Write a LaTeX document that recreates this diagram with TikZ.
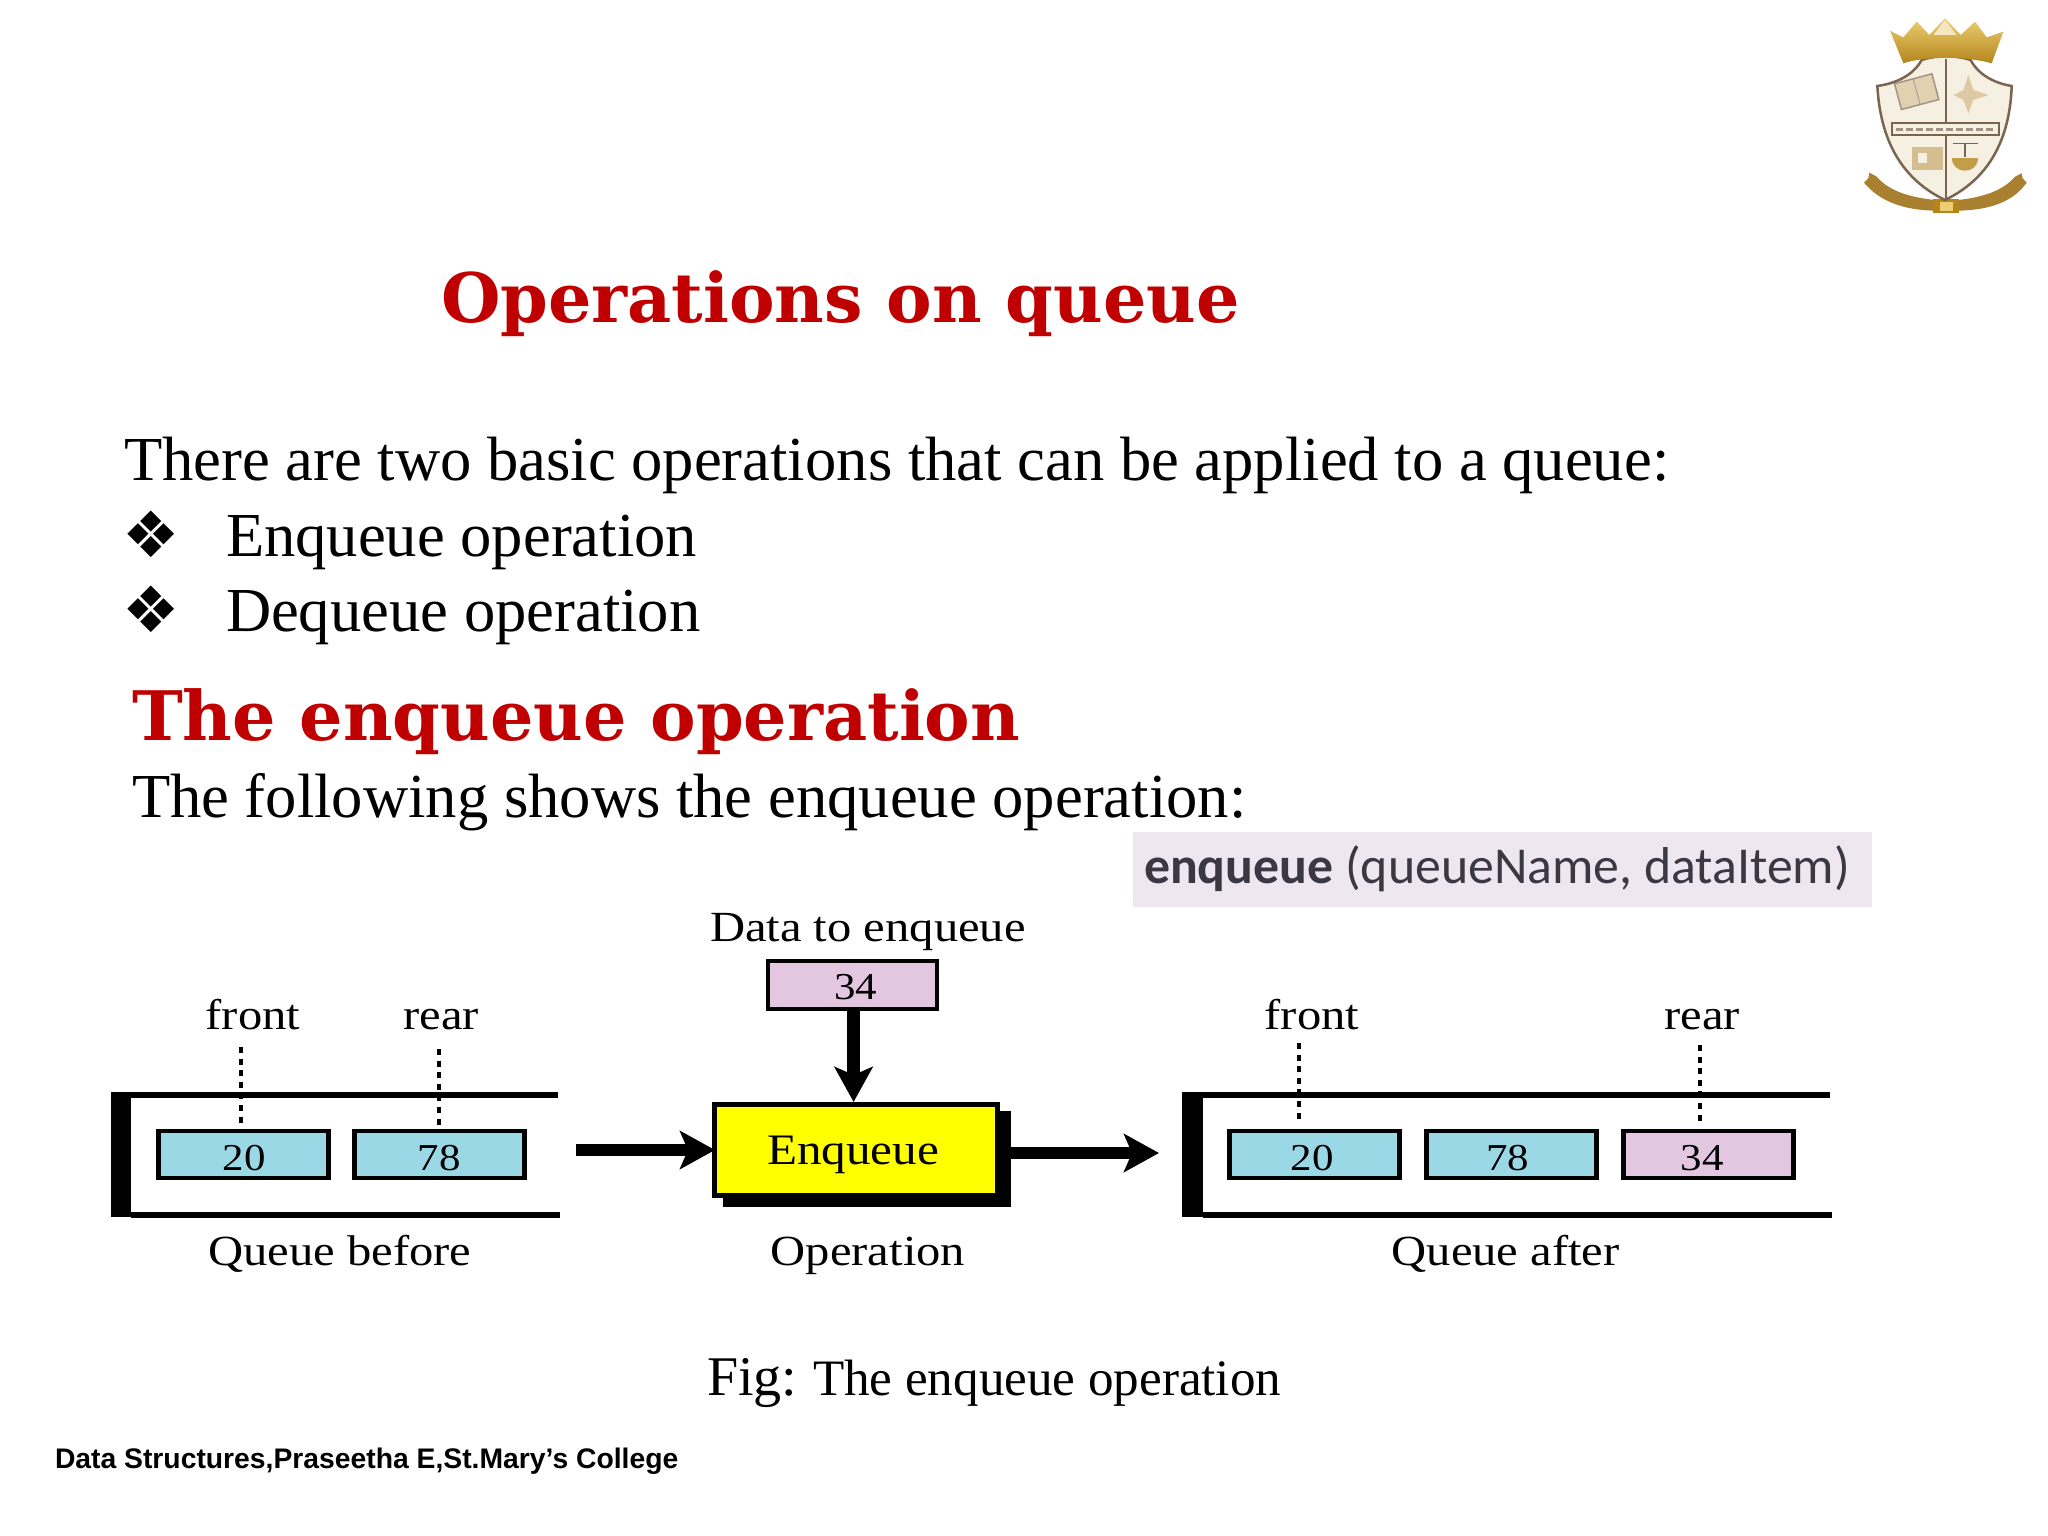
\documentclass[tikz,border=0pt]{standalone}
\usepackage{fontspec}
\usetikzlibrary{arrows.meta,shapes.geometric}
\setmainfont{Liberation Serif}
\newfontfamily\figfont[FakeStretch=1.13]{Liberation Serif}
\newfontfamily\titlefont{DejaVu Serif}
\newfontfamily\codefont{Carlito}
\newfontfamily\symfont{DejaVu Sans}
\newfontfamily\footfont{Liberation Sans}
\definecolor{cellblue}{RGB}{155,216,230}
\definecolor{cellpink}{RGB}{227,198,224}
\definecolor{titlered}{RGB}{192,0,0}
\definecolor{codebg}{RGB}{239,231,240}
\definecolor{codetext}{RGB}{58,56,68}
\definecolor{crestline}{RGB}{122,102,80}
\definecolor{crestfill}{RGB}{246,240,226}
\definecolor{goldhi}{RGB}{235,207,114}
\definecolor{goldlo}{RGB}{181,133,28}
\definecolor{ribbon}{RGB}{169,128,47}
\definecolor{iconc}{RGB}{212,189,142}
\definecolor{opyellow}{RGB}{255,255,0}
\tikzset{
  txt/.style={inner sep=0pt,outer sep=0pt,anchor=base},
  ltxt/.style={inner sep=0pt,outer sep=0pt,anchor=base west},
  body/.style={ltxt,font=\fontsize{62.6}{66}\selectfont},
  heading/.style={ltxt,text=titlered,font=\titlefont\bfseries\fontsize{68.3}{72}\selectfont},
  bullet/.style={ltxt,font=\symfont\fontsize{64}{68}\selectfont},
  figlabel/.style={txt,font=\figfont\fontsize{43}{46}\selectfont},
  celltext/.style={txt,font=\figfont\fontsize{38}{42}\selectfont},
  cellbox/.style={draw=black,line width=4.5pt,inner sep=0pt,minimum width=170pt,minimum height=47pt},
  bluecell/.style={cellbox,fill=cellblue},
  pinkcell/.style={cellbox,fill=cellpink},
  wall/.style={line width=6pt},
  pointer/.style={line width=4pt,dash pattern=on 6pt off 5.6pt},
  bigarrow/.style={line width=12.5pt,-{Stealth[length=35pt,width=38pt,inset=8pt]}},
}
\begin{document}
\begin{tikzpicture}[x=1pt,y=-1pt]
\useasboundingbox[fill=white] (0,0) rectangle (2048,1536);

% Texts of the slide
\node[heading] (title) at (441,322) {Operations on queue};
\node[body] (intro) at (124,480) {There are two basic operations that can be applied to a queue:};
\node[bullet] (b1) at (122,557) {❖};
\node[body] (enq) at (226,556) {Enqueue operation};
\node[bullet] (b2) at (122,632) {❖};
\node[body] (deq) at (226,631) {Dequeue operation};
\node[heading] (head) at (132,740) {The enqueue operation};
\node[body] (follow) at (132,817) {The following shows the enqueue operation:};

% Code strip
\node[draw=none,fill=codebg,inner sep=0pt,minimum width=739pt,minimum height=75pt] (strip) at (1502.5,869.5) {};
\node[ltxt,text=codetext,font=\codefont\fontsize{51.8}{55}\selectfont] (sig) at (1144,883) {\textbf{enqueue} (queueName, dataItem)};

% Queue before
\node[fill=black,inner sep=0pt,minimum width=20pt,minimum height=125pt] (qbwall) at (121,1154.5) {};
\coordinate (qbtop) at (558,1095);
\coordinate (qbbot) at (560,1214.5);
\draw[wall] (qbwall.north east |- qbtop) -- (qbtop);
\draw[wall] (qbwall.south east |- qbbot) -- (qbbot);
\node[bluecell] (b20) at (243.5,1154.5) {};
\node[bluecell] (b78) at (439.5,1154.5) {};
\node[celltext] at (244,1170) {20};
\node[celltext] at (439,1170) {78};
\node[figlabel] (bfront) at (253,1029.5) {front};
\node[figlabel] (brear) at (441,1029.5) {rear};
\coordinate (bfa) at (240.7,1047);
\coordinate (bfb) at (240.7,1124);
\coordinate (bra) at (438.5,1049);
\coordinate (brb) at (438.5,1126);
\draw[pointer] (bfa) -- (bfb);
\draw[pointer] (bra) -- (brb);
\node[figlabel] (qbcap) at (340,1265.5) {Queue before};

% Operation
\node[figlabel] (dlabel) at (868,941.5) {Data to enqueue};
\node[pinkcell,minimum width=169pt,minimum height=48pt] (d34) at (852.3,985) {};
\node[celltext] at (855.5,999) {34};
\node[fill=black,inner sep=0pt,minimum width=288pt,minimum height=96pt] (enqshadow) at (867,1159) {};
\node[draw=black,fill=opyellow,line width=5pt,inner sep=0pt,minimum width=283pt,minimum height=91pt] (enqbox) at (856,1150) {};
\node[txt,font=\figfont\fontsize{43.5}{47}\selectfont] (enqtext) at (853,1164) {Enqueue};
\node[figlabel] (opcap) at (868,1265.5) {Operation};
\coordinate (dropx) at (853.6,0);
\draw[bigarrow] (d34.south -| dropx) -- (enqbox.north -| dropx);
\coordinate (inarrow) at (576,1150);
\draw[bigarrow] (inarrow) -- ([xshift=3pt]enqbox.west);
\coordinate (outarrow) at (enqshadow.east |- 0,1153);
\coordinate (outtip) at (1159,1153);
\draw[bigarrow] (outarrow) -- (outtip);

% Queue after
\node[fill=black,inner sep=0pt,minimum width=21pt,minimum height=125pt] (qawall) at (1192.5,1154.5) {};
\coordinate (qatop) at (1830,1095);
\coordinate (qabot) at (1832,1214.5);
\draw[wall] (qawall.north east |- qatop) -- (qatop);
\draw[wall] (qawall.south east |- qabot) -- (qabot);
\node[bluecell] (a20) at (1314.5,1154.5) {};
\node[bluecell] (a78) at (1511.5,1154.5) {};
\node[pinkcell] (a34) at (1708.5,1154.5) {};
\node[celltext] at (1312,1170) {20};
\node[celltext] at (1507.5,1170) {78};
\node[celltext] at (1702,1170) {34};
\node[figlabel] (afront) at (1312,1029.5) {front};
\node[figlabel] (arear) at (1702,1029.5) {rear};
\coordinate (afa) at (1299,1043);
\coordinate (afb) at (1299,1120);
\coordinate (ara) at (1699.5,1045);
\coordinate (arb) at (1699.5,1122);
\draw[pointer] (afa) -- (afb);
\draw[pointer] (ara) -- (arb);
\node[figlabel] (qacap) at (1505.6,1265.5) {Queue after};

% Caption and footer
\node[ltxt,font=\fontsize{56}{60}\selectfont] (fig) at (707,1395) {Fig:};
\node[ltxt,font=\fontsize{51.1}{55}\selectfont] (figcap) at (813,1395) {The enqueue operation};
\node[ltxt,font=\footfont\bfseries\fontsize{28.3}{32}\selectfont] (foot) at (55,1468) {Data Structures,Praseetha E,St.Mary’s College};

% Crest (drawn in the coordinates of a 3x crop)
\begin{scope}[shift={(1840pt,0pt)},x=0.33333pt,y=-0.33333pt]
  % ribbon
  \fill[ribbon] (72,548) -- (85,535) -- (88,518) -- (110,530) .. controls (140,565) and (190,590) .. (285,600) -- (285,632) .. controls (190,630) and (120,605) .. cycle;
  \fill[ribbon] (560,548) -- (548,535) -- (545,520) -- (525,530) .. controls (495,565) and (445,590) .. (355,600) -- (355,632) .. controls (450,630) and (520,605) .. cycle;
  \fill[goldlo] (280,598) rectangle (358,640);
  \fill[goldhi] (300,605) rectangle (340,632);
  % shield
  \draw[crestline,fill=crestfill,line width=2.5pt] (112,258) .. controls (170,250) and (220,225) .. (245,180) .. controls (290,165) and (345,165) .. (392,180) .. controls (415,225) and (465,250) .. (515,258) .. controls (510,400) and (460,530) .. (315,600) .. controls (170,530) and (120,400) .. cycle;
  % quarter emblems
  \begin{scope}[rotate around={15:(230,275)}]
    \draw[crestline!70,fill=iconc!70,line width=1.5pt] (172,235) rectangle (288,315);
    \draw[crestline!60,line width=1pt] (230,235) -- (230,315);
  \end{scope}
  \fill[iconc!80] (385,225) -- (400,270) -- (445,285) -- (400,300) -- (385,340) -- (370,300) -- (340,285) -- (370,270) -- cycle;
  \fill[iconc] (215,440) rectangle (310,510);
  \fill[crestfill] (235,460) rectangle (260,490);
  \draw[crestline,line width=1.5pt] (338,430) -- (415,430);
  \draw[crestline,line width=2pt] (375,430) -- (375,470);
  \fill[goldlo!80] (335,475) .. controls (335,525) and (415,525) .. (415,475) -- cycle;
  % cross
  \draw[crestline,line width=2.5pt] (318,178) -- (318,598);
  \draw[crestline,fill=crestfill,line width=2pt] (155,370) rectangle (478,405);
  \draw[crestline!70,line width=3pt,dash pattern=on 7pt off 3pt] (168,388) -- (465,388);
  % crown
  \shade[top color=goldhi,bottom color=goldlo] (150,92) -- (190,112) -- (230,65) -- (268,105) -- (315,55) -- (362,105) -- (405,65) -- (440,112) -- (490,95) -- (455,190) .. controls (380,168) and (255,168) .. (190,190) -- cycle;
  \fill[crestfill!70!goldhi] (280,105) -- (315,60) -- (350,105) -- cycle;
\end{scope}
\end{tikzpicture}
\end{document}
